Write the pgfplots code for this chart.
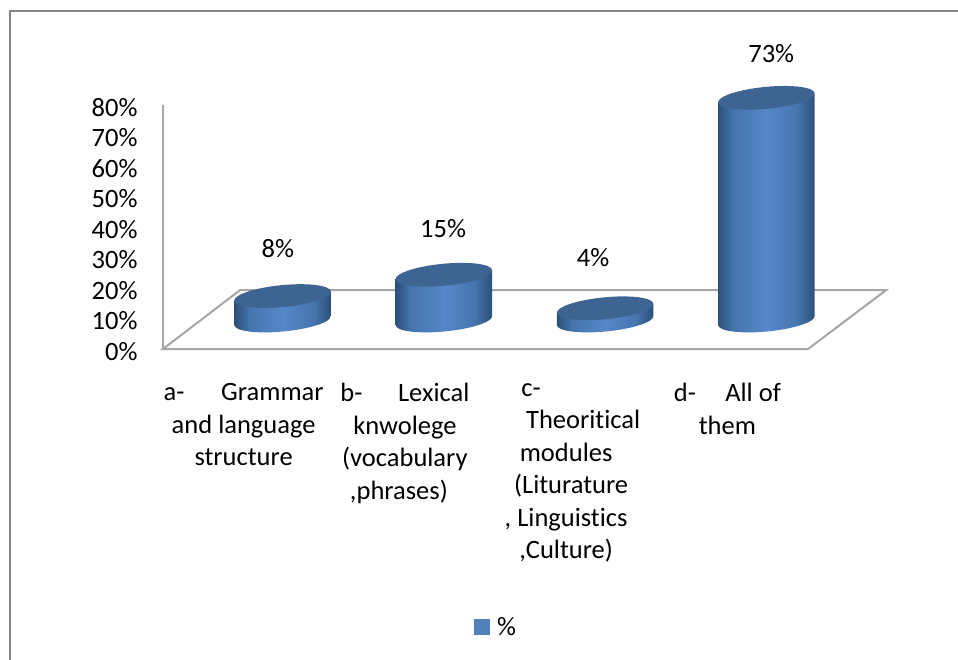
\documentclass[border=0pt]{standalone}
\usepackage{pgfplots}
\pgfplotsset{compat=1.18}
\usepackage{fontspec}
\setmainfont{Carlito}[Ligatures=NoCommon]
\definecolor{cA}{HTML}{2C4F78}
\definecolor{cB}{HTML}{4675AE}
\definecolor{cC}{HTML}{5588C9}
\definecolor{cTop}{HTML}{3E6592}
\definecolor{gridg}{HTML}{A6A6A6}
\definecolor{frameg}{HTML}{868686}
\definecolor{legb}{HTML}{4F81BD}
\pgfdeclarehorizontalshading{cylshade}{100bp}{color(0bp)=(cA);color(25bp)=(cA);color(33bp)=(cB);color(50bp)=(cC);color(66bp)=(cB);color(75bp)=(cA);color(100bp)=(cA)}
\newcommand{\txt}{\fontsize{26.5}{32.5}\selectfont}
\begin{document}
\begin{tikzpicture}[x=1pt,y=1pt]
\path[use as bounding box] (0,0) rectangle (958,659);
\draw[frameg,line width=2.2pt] (10,-2) -- (10,648) -- (960,648);
\begin{axis}[
  at={(163pt,310pt)},anchor=south west,
  scale only axis,width=645pt,height=244pt,
  xmin=-0.5,xmax=3.5,ymin=0,ymax=80,
  axis x line=none,
  axis y line=left,
  y axis line style={-,gridg,line width=2pt},
  ytick={0,10,20,30,40,50,60,70,80},
  yticklabels={0\%,10\%,20\%,30\%,40\%,50\%,60\%,70\%,80\%},
  major tick length=0pt,
  yticklabel style={font=\txt,anchor=east,xshift=-22pt,yshift=-2.5pt},
  clip=false,
]
\addplot[gridg,line width=2pt] coordinates {(-0.0225,19.3) (-0.5,0) (3.5,0) (3.984,19.3) (-0.0225,19.3)};
\node[font=\txt,align=center,anchor=north,inner sep=0pt] at (axis cs:0,-11.2) {\makebox[160pt]{a-\hfill Grammar}\\and language\\structure};
\node[font=\txt,align=center,anchor=north,inner sep=0pt] at (axis cs:1,-11.2) {\makebox[129pt]{b-\hfill Lexical}\\knwolege\\(vocabulary\\\hspace*{-12pt},phrases)};
\node[font=\txt,align=center,anchor=north,inner sep=0pt] at (axis cs:2,-11.2) {c-\hspace*{70pt}\\\hspace*{34pt}Theoritical\\modules\\\hspace*{10pt}(Liturature\\, Linguistics\\,Culture)};
\node[font=\txt,align=center,anchor=north,inner sep=0pt] at (axis cs:3,-11.2) {\makebox[107pt]{d-\hfill All of}\\them};
\end{axis}
\begin{axis}[
  at={(202pt,338.5pt)},anchor=south west,
  scale only axis,width=645pt,height=244pt,
  xmin=-0.5,xmax=3.5,ymin=0,ymax=80,
  hide axis,clip=false,
  legend style={at={(0.4555,-1.256)},anchor=center,draw=none,fill=none,font=\txt,inner sep=0pt},
  legend image code/.code={\fill[legb] (0pt,-7.5pt) rectangle (15pt,7.5pt);},
]
\addplot[
  scatter,only marks,mark=*,mark size=0pt,mark options={draw=none,fill=none},
  visualization depends on={y \as \rawy},
  scatter/@pre marker code/.code={%
    \pgfmathsetmacro{\hh}{\rawy*3.05}%
    \begin{pgfscope}
    \pgfpathmoveto{\pgfpoint{-48.3pt}{-4.41pt}}%
    \pgfpathlineto{\pgfpoint{-48.3pt}{-4.41pt-\hh pt}}%
    \pgfpatharcaxes{178.75}{358.75}{\pgfpoint{48.28pt}{4.65pt}}{\pgfpoint{-1.05pt}{10.95pt}}%
    \pgfpathlineto{\pgfpoint{48.3pt}{4.41pt}}%
    \pgfpathclose
    \pgfshadepath{cylshade}{0}%
    \pgfusepath{discard}%
    \end{pgfscope}
    \begin{pgfscope}
    \pgfsetfillcolor{cTop}%
    \pgfpathellipse{\pgfpointorigin}{\pgfpoint{48.28pt}{4.65pt}}{\pgfpoint{-1.05pt}{10.95pt}}%
    \pgfusepath{fill}%
    \end{pgfscope}
  },
  scatter/@post marker code/.code={},
] coordinates {(0,8) (1,15) (2,4) (3,73)};
\addlegendentry{\hspace{6pt}\%}
\node[font=\txt] at (axis cs:-0.03,23.5) {8\%};
\node[font=\txt] at (axis cs:0.995,30.2) {15\%};
\node[font=\txt] at (axis cs:1.925,20.5) {4\%};
\node[font=\txt] at (axis cs:3.03,87.4) {73\%};
\end{axis}
\end{tikzpicture}
\end{document}
